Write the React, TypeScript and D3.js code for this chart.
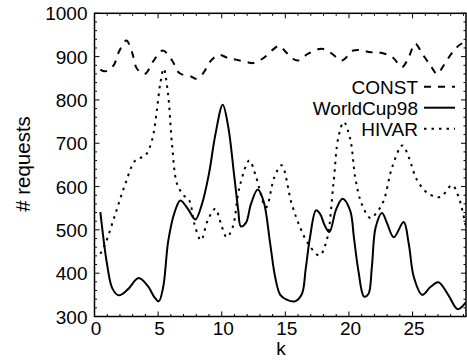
import * as d3 from "d3";
import React from "react";

// series (k, # requests)
const constK = [0.46, 0.85, 1.5, 1.9, 2.5, 2.95, 3.34, 3.95, 4.65, 5.36, 6.1, 6.67, 7.59, 7.98, 8.5, 9.16, 9.8, 10.47, 11.12, 12.04, 12.43, 13.2, 14.1, 14.5, 15.0, 15.6, 16.0, 16.8, 17.86, 18.65, 19.43, 20.35, 21.13, 21.66, 22.34, 23.4, 24.17, 24.7, 25.2, 25.75, 26.4, 26.93, 27.45, 28.24, 28.9, 29.2];
const constV = [870, 866, 880, 910, 937, 910, 872, 860, 891, 914, 891, 862, 854, 849, 860, 891, 904, 897, 893, 887, 885, 895, 918, 925, 912, 895, 891, 907, 918, 907, 891, 914, 914, 910, 910, 899, 876, 899, 930, 907, 880, 860, 880, 914, 930, 926];

const wcK = [0.46, 0.98, 1.4, 1.9, 2.6, 3.47, 4.2, 4.7, 5.05, 5.4, 5.8, 6.3, 6.75, 7.35, 7.93, 8.45, 9.0, 9.5, 10.08, 10.5, 11.0, 11.3, 11.5, 11.9, 12.3, 12.83, 13.3, 13.8, 14.2, 14.6, 15.1, 15.76, 16.3, 16.6, 16.94, 17.41, 17.73, 18.1, 18.46, 19.0, 19.5, 20.09, 20.4, 20.74, 21.19, 21.53, 21.8, 22.1, 22.6, 23.0, 23.52, 24.3, 24.7, 25.1, 25.75, 26.4, 27.03, 27.8, 28.55, 29.2];
const wcV = [541, 422, 365, 349, 362, 389, 370, 345, 335, 368, 475, 541, 568, 548, 524, 560, 630, 720, 789, 740, 620, 545, 508, 516, 560, 593, 565, 470, 391, 350, 339, 335, 352, 410, 483, 545, 537, 510, 495, 548, 572, 545, 480, 406, 346, 352, 414, 506, 539, 515, 483, 518, 468, 391, 350, 368, 379, 350, 317, 333];

const hivarK = [0.46, 0.85, 1.64, 2.42, 3.2, 4.0, 4.52, 4.9, 5.17, 5.44, 5.78, 6.09, 6.49, 7.0, 7.45, 7.85, 8.37, 8.9, 9.5, 9.94, 10.39, 10.86, 11.4, 12.17, 12.7, 13.48, 14.14, 14.7, 15.5, 16.16, 16.8, 17.68, 18.25, 18.78, 19.17, 19.6, 20.1, 20.5, 21.0, 21.7, 22.1, 22.7, 23.4, 24.2, 24.7, 25.35, 26.27, 27.2, 28.1, 28.63, 29.2];
const hivarV = [445, 468, 537, 606, 660, 672, 707, 776, 838, 872, 814, 699, 606, 580, 568, 514, 476, 522, 549, 514, 483, 506, 599, 660, 622, 552, 622, 649, 560, 506, 468, 441, 476, 606, 714, 749, 710, 620, 560, 527, 537, 565, 645, 695, 668, 615, 583, 576, 603, 575, 506];

const xTicks = [0, 5, 10, 15, 20, 25];
const yTicks = [300, 400, 500, 600, 700, 800, 900, 1000];
const legendNames = ["CONST", "WorldCup98", "HIVAR"];

const W = 467;
const H = 360;
const m = { left: 94.5, right: 466, top: 13.3, bottom: 316.5 };

export default function App() {
  const x = d3.scaleLinear().domain([0, 29.2]).range([m.left, m.right]);
  const y = d3.scaleLinear().domain([300, 1000]).range([m.bottom, m.top]);

  const line = d3
    .line<[number, number]>()
    .x((d) => x(d[0]))
    .y((d) => y(d[1]))
    .curve(d3.curveCatmullRom.alpha(0.5));

  const zip = (ks: number[], vs: number[]) =>
    ks.map((k, i) => [k, vs[i]] as [number, number]);

  const series = [
    { name: legendNames[0], pts: zip(constK, constV), dash: "7 7" },
    { name: legendNames[1], pts: zip(wcK, wcV), dash: "none" },
    { name: legendNames[2], pts: zip(hivarK, hivarV), dash: "2.5 5" },
  ];

  const minorX = d3.range(0, 30, 1);
  const minorY = d3.range(300, 1001, 20);
  const font = "'Liberation Sans', Arial, Helvetica, sans-serif";

  return (
    <svg
      width={W}
      height={H}
      style={{ position: "absolute", left: 0, top: 0, background: "#fff" }}
      fontFamily={font}
    >
      <defs>
        <clipPath id="plot">
          <rect x={m.left} y={m.top} width={m.right - m.left} height={m.bottom - m.top} />
        </clipPath>
      </defs>

      {/* ticks, mirrored on all sides */}
      <g stroke="#000" strokeWidth={1}>
        {minorX.map((t) => {
          const len = t % 5 === 0 ? 5 : 2.5;
          return (
            <g key={`xt${t}`}>
              <line x1={x(t)} x2={x(t)} y1={m.bottom} y2={m.bottom - len} />
              <line x1={x(t)} x2={x(t)} y1={m.top} y2={m.top + len} />
            </g>
          );
        })}
        {minorY.map((t) => {
          const len = t % 100 === 0 ? 5 : 2.5;
          return (
            <g key={`yt${t}`}>
              <line x1={m.left} x2={m.left + len} y1={y(t)} y2={y(t)} />
              <line x1={m.right} x2={m.right - len} y1={y(t)} y2={y(t)} />
            </g>
          );
        })}
      </g>

      {/* lines */}
      <g clipPath="url(#plot)" fill="none" stroke="#000" strokeWidth={2}>
        {series.map((s) => (
          <path key={s.name} d={line(s.pts) ?? undefined} strokeDasharray={s.dash} />
        ))}
      </g>

      <rect
        x={m.left}
        y={m.top}
        width={m.right - m.left}
        height={m.bottom - m.top}
        fill="none"
        stroke="#000"
        strokeWidth={1.5}
      />

      {/* axis labels */}
      {yTicks.map((t) => (
        <text key={`yl${t}`} x={87.5} y={y(t) + 7} textAnchor="end" fontSize={19}>
          {t}
        </text>
      ))}
      {xTicks.map((t) => (
        <text key={`xl${t}`} x={x(t) + 1.5} y={334.5} textAnchor="middle" fontSize={19}>
          {t}
        </text>
      ))}
      <text x={281} y={355} textAnchor="middle" fontSize={19}>
        k
      </text>
      <text transform="translate(30,164) rotate(-90)" textAnchor="middle" fontSize={20.5}>
        # requests
      </text>

      {/* legend */}
      {series.map((s, i) => {
        const by = 93.5 + i * 21;
        return (
          <g key={`lg${s.name}`}>
            <text x={418} y={by} textAnchor="end" fontSize={19}>
              {s.name}
            </text>
            <line
              x1={424}
              x2={455}
              y1={by - 6.8}
              y2={by - 6.8}
              stroke="#000"
              strokeWidth={2}
              strokeDasharray={s.dash}
            />
          </g>
        );
      })}
    </svg>
  );
}
